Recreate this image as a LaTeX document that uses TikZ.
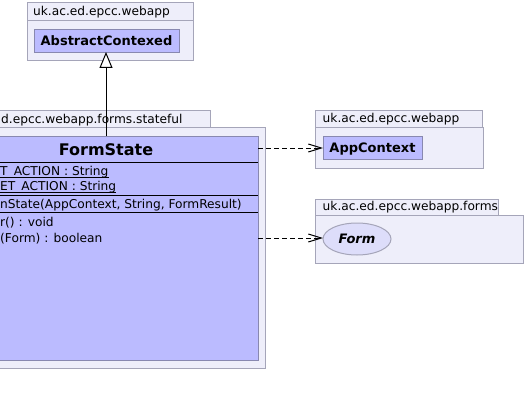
\documentclass[tikz,border=0pt]{standalone}
\usepackage{fontspec}
\setmainfont{DejaVu Sans}
\usetikzlibrary{arrows.meta,shapes.geometric}
\definecolor{pkgfill}{RGB}{238,238,250}
\definecolor{pkgdraw}{RGB}{165,165,185}
\definecolor{clsfill}{RGB}{187,187,255}
\definecolor{clsdraw}{RGB}{136,136,176}
\definecolor{ellfill}{RGB}{221,221,250}
\tikzset{
  pkgbox/.style={draw=pkgdraw, fill=pkgfill, line width=1pt, inner sep=0pt, anchor=north west},
  clsbox/.style={draw=clsdraw, fill=clsfill, line width=1pt, inner sep=0pt, anchor=north west},
  ifcbox/.style={ellipse, draw=pkgdraw, fill=ellfill, line width=1pt, inner sep=0pt},
  pkglabel/.style={anchor=base west, inner sep=0pt, font=\fontsize{12.2}{14}\selectfont},
  clsname/.style={anchor=base, inner sep=0pt, font=\fontsize{13}{15}\selectfont\bfseries},
  member/.style={anchor=base west, inner sep=0pt, font=\fontsize{12.2}{14}\selectfont},
  sepline/.style={line width=1pt, black},
  ulline/.style={line width=0.9pt, black},
  depend/.style={line width=1pt, dash pattern=on 5pt off 3pt, -{Straight Barb[length=13pt,width=8pt]}},
  inherit/.style={line width=1pt, -{Triangle[open, length=16pt, width=13pt, fill=white]}}
}
\begin{document}
\begin{tikzpicture}[x=1pt, y=-1pt]
\useasboundingbox (0,0) rectangle (526,406);
\clip (0,0) rectangle (526,406);
\fill[white] (0,0) rectangle (526,406);

% package uk.ac.ed.epcc.webapp (top)
\node[pkgbox, minimum width=166, minimum height=18] (p1tab) at (27,2) {};
\node[pkgbox, minimum width=166, minimum height=40] (p1body) at (27,20) {};
\node[pkglabel] (p1lab) at (33,16) {uk.ac.ed.epcc.webapp};
\node[clsbox, minimum width=145, minimum height=23] (abs) at (34,29) {};
\node[clsname] (absname) at (106.5,46) {AbstractContexed};

% package ...forms.stateful
\node[pkgbox, minimum width=211, minimum height=17] (p2tab) at (-1,110) {};
\node[pkgbox, minimum width=266, minimum height=241] (p2body) at (-1,127) {};
\node[pkglabel] (p2lab) at (1,124) {d.epcc.webapp.forms.stateful};
\node[clsbox, minimum width=259, minimum height=224] (fs) at (-1,136) {};
\node[clsname, font=\fontsize{16}{18}\selectfont\bfseries] (fsname) at (106,155) {FormState};
\coordinate (s1l) at (-1,162); \coordinate (s1r) at (258,162);
\coordinate (s2l) at (-1,195); \coordinate (s2r) at (258,195);
\coordinate (s3l) at (-1,212); \coordinate (s3r) at (258,212);
\draw[sepline] (s1l) -- (s1r);
\draw[sepline] (s2l) -- (s2r);
\draw[sepline] (s3l) -- (s3r);
\node[member] (a1) at (0,175) {T\_ACTION : String};
\node[member] (a2) at (0,190) {ET\_ACTION : String};
\draw[ulline] ([yshift=-2.6pt]a1.base west) -- ([yshift=-2.6pt]a1.base east);
\draw[ulline] ([yshift=-2.6pt]a2.base west) -- ([yshift=-2.6pt]a2.base east);
\node[member] (c1) at (0,208) {nState(AppContext, String, FormResult)};
\node[member] (m1) at (0,226) {r() : void};
\node[member] (m2) at (0,242) {(Form) : boolean};

% package uk.ac.ed.epcc.webapp (right)
\node[pkgbox, minimum width=167, minimum height=17] (p3tab) at (315,110) {};
\node[pkgbox, minimum width=168, minimum height=41] (p3body) at (315,127) {};
\node[pkglabel] (p3lab) at (322.5,122.5) {uk.ac.ed.epcc.webapp};
\node[clsbox, minimum width=99, minimum height=23] (appctx) at (323,136) {};
\node[clsname] (appname) at (372.5,152.5) {AppContext};

% package uk.ac.ed.epcc.webapp.forms
\node[pkgbox, minimum width=183, minimum height=16] (p4tab) at (315,199) {};
\node[pkgbox, minimum width=208, minimum height=48] (p4body) at (315,215) {};
\node[pkglabel] (p4lab) at (322.5,210.5) {uk.ac.ed.epcc.webapp.forms};
\node[ifcbox, minimum width=68, minimum height=32] (form) at (357,239) {};
\node[clsname, font=\fontsize{13}{15}\selectfont\bfseries\itshape] (formname) at (357,243) {Form};

% connectors
\coordinate (inhStart) at (106,136);
\coordinate (inhEnd) at (106,52);
\draw[inherit] (inhStart) -- (inhEnd);
\coordinate (d1s) at (258,148);
\coordinate (d1e) at (323,148);
\draw[depend] (d1s) -- (d1e);
\coordinate (d2s) at (258,238);
\coordinate (d2e) at (323,238);
\draw[depend] (d2s) -- (d2e);
\end{tikzpicture}
\end{document}
